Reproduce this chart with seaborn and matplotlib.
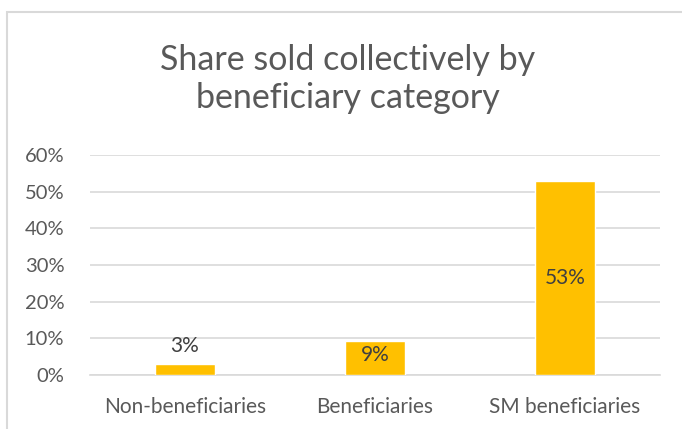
import matplotlib
matplotlib.use("Agg")
import matplotlib.pyplot as plt
import matplotlib.patches as mpatches
from matplotlib.ticker import PercentFormatter
import pandas as pd
import seaborn as sns

categories = ["Non-beneficiaries", "Beneficiaries", "SM beneficiaries"]
shares = [0.03, 0.093, 0.53]
labels = ["3%", "9%", "53%"]

df = pd.DataFrame({"category": categories, "share": shares})

sns.set_theme(style="white")
plt.rcParams["font.family"] = ["Lato", "DejaVu Sans"]

text_grey = "#595959"
fig = plt.figure(figsize=(6.82, 4.29), dpi=100)
ax = fig.add_axes([90 / 682, 1 - 375 / 429, 570 / 682, 220 / 429])

sns.barplot(data=df, x="category", y="share", color="#FFC000",
            width=0.316, saturation=1, ax=ax, zorder=3)

ax.set_ylim(0, 0.6)
ax.set_xlim(-0.5, 2.5)
ax.set_yticks([0, 0.1, 0.2, 0.3, 0.4, 0.5, 0.6])
ax.yaxis.set_major_formatter(PercentFormatter(1.0, decimals=0))
ax.grid(axis="y", color="#D9D9D9", linewidth=1.2, zorder=0)
ax.set_xlabel("")
ax.set_ylabel("")
for s in ["top", "right", "left"]:
    ax.spines[s].set_visible(False)
ax.spines["bottom"].set_color("#D9D9D9")
ax.spines["bottom"].set_linewidth(1.2)
ax.tick_params(axis="y", colors=text_grey, labelsize=14.5, length=0, pad=18.5)
ax.tick_params(axis="x", colors=text_grey, labelsize=15, length=0, pad=16)

# data labels: Excel placed them differently per bar
offsets = [(0, 13), (0, -10), None]
for i, (v, lab) in enumerate(zip(shares, labels)):
    if offsets[i] is None:
        ax.text(i, v / 2, lab, ha="center", va="center", fontsize=15, color="#404040", zorder=4)
    else:
        ax.annotate(lab, xy=(i, v), xytext=offsets[i], textcoords="offset points",
                    ha="center", va="center", fontsize=15, color="#404040", zorder=4)

fig.text(0.51, 1 - 79 / 429, "Share sold collectively by\nbeneficiary category",
         ha="center", va="center", fontsize=24.5, color=text_grey, linespacing=1.2)

# chart frame (extends beyond the image on right and bottom)
frame = mpatches.Rectangle((7 / 682, -0.1), 1.2, 1 - 12 / 429 + 0.1,
                           transform=fig.transFigure, fill=False,
                           edgecolor="#D9D9D9", linewidth=1.5, clip_on=False)
fig.patches.append(frame)

fig.savefig("out.png", dpi=100, facecolor="white")
